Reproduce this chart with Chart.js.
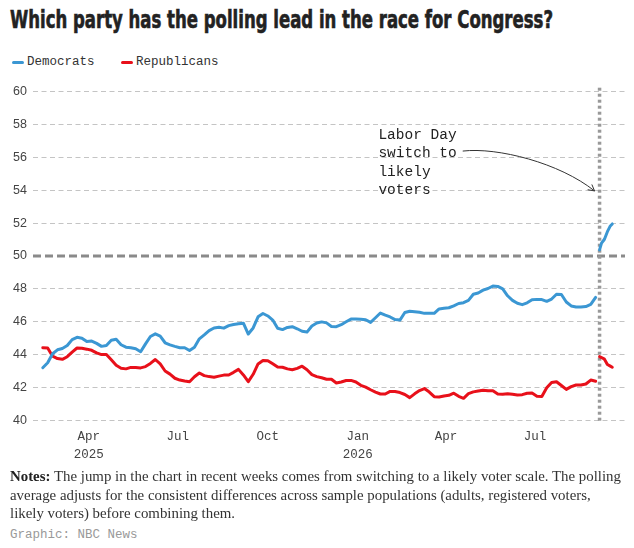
<!DOCTYPE html>
<html>
<head>
<meta charset="utf-8">
<script src="https://cdn.jsdelivr.net/npm/chart.js@4.4.1/dist/chart.umd.min.js"></script>
<style>
  body { margin: 0; width: 634px; height: 548px; background: #fff; position: relative; overflow: hidden; color: #222; }
  #title { position: absolute; left: 10px; top: 7.7px; margin: 0; white-space: nowrap; transform-origin: 0 0;
           font: bold 24px/24px "Liberation Sans Narrow", "DejaVu Sans Condensed", "Liberation Sans", sans-serif;
           -webkit-text-stroke: 0.6px #222; color: #222; }
  #legend { position: absolute; left: 12px; top: 54.5px; display: flex; color: #333;
            font: 12.5px/15px "Liberation Mono", "DejaVu Sans Mono", monospace; }
  .item { display: flex; align-items: center; margin-right: 26.5px; }
  .swatch { width: 12px; height: 3px; border-radius: 2px; margin-right: 3px; }
  #wrap { position: absolute; left: 0; top: 70px; width: 634px; height: 400px; }
  #notes { position: absolute; left: 10px; top: 467.4px; white-space: nowrap; transform-origin: 0 0; color: #333;
           font: 14.5px/18.5px "Liberation Serif", "DejaVu Serif", serif; }
  #notes b { color: #222; }
  #credit { position: absolute; left: 10px; top: 527.5px; color: #999;
            font: 12.5px/15px "Liberation Mono", "DejaVu Sans Mono", monospace; }
</style>
</head>
<body>
<h1 id="title">Which party has the polling lead in the race for Congress?</h1>
<div id="legend"></div>
<div id="wrap"><canvas id="chart"></canvas></div>
<div id="notes"><span id="firstLine"><b>Notes:</b> The jump in the chart in recent weeks comes from switching to a likely voter scale. The polling</span><br>average adjusts for the consistent differences across sample populations (adults, registered voters,<br>likely voters) before combining them.</div>
<div id="credit">Graphic: NBC News</div>

<script>
// registered-voter average, one value every 5 days from the start date
const rvStart = "2025-02-13";
const rvStepDays = 5;
const demRV = [
    43.2, 43.5, 44.05, 44.29, 44.37, 44.55, 44.91, 45.05, 45.0, 44.8,
    44.82, 44.68, 44.5, 44.55, 44.87, 44.93, 44.6, 44.45, 44.41, 44.35,
    44.17, 44.65, 45.1, 45.26, 45.12, 44.72, 44.59, 44.5, 44.42, 44.42,
    44.25, 44.45, 44.96, 45.2, 45.46, 45.62, 45.66, 45.61, 45.76, 45.83,
    45.87, 45.91, 45.25, 45.62, 46.3, 46.5, 46.35, 46.1, 45.6, 45.52,
    45.65, 45.7, 45.57, 45.42, 45.37, 45.74, 45.92, 45.99, 45.93, 45.71,
    45.7, 45.82, 46.0, 46.16, 46.17, 46.15, 46.12, 45.96, 46.24, 46.53,
    46.4, 46.29, 46.13, 46.1, 46.56, 46.64, 46.61, 46.58, 46.51, 46.51,
    46.51, 46.78, 46.82, 46.85, 46.97, 47.11, 47.16, 47.3, 47.67, 47.75,
    47.92, 48.02, 48.17, 48.15, 48.0, 47.58, 47.3, 47.12, 47.04, 47.15,
    47.34, 47.36, 47.35, 47.24, 47.38, 47.67, 47.66, 47.2, 46.96, 46.9,
    46.89, 46.92, 47.05, 47.48,
];
const repRV = [
    44.42, 44.4, 43.9, 43.76, 43.71, 43.87, 44.15, 44.4, 44.38, 44.33,
    44.26, 44.1, 44.0, 44.0, 43.68, 43.35, 43.17, 43.13, 43.22, 43.22,
    43.19, 43.27, 43.46, 43.7, 43.43, 43.0, 42.81, 42.56, 42.45, 42.39,
    42.35, 42.65, 42.88, 42.72, 42.66, 42.62, 42.69, 42.75, 42.76, 42.92,
    43.1, 42.76, 42.35, 42.8, 43.43, 43.64, 43.63, 43.44, 43.24, 43.23,
    43.13, 43.08, 43.16, 43.29, 43.08, 42.78, 42.66, 42.59, 42.5, 42.5,
    42.27, 42.33, 42.42, 42.43, 42.33, 42.13, 42.02, 41.86, 41.72, 41.6,
    41.6, 41.76, 41.75, 41.69, 41.57, 41.38, 41.61, 41.81, 41.93, 41.72,
    41.44, 41.42, 41.48, 41.52, 41.65, 41.46, 41.34, 41.62, 41.73, 41.78,
    41.83, 41.8, 41.8, 41.6, 41.58, 41.62, 41.58, 41.54, 41.56, 41.65,
    41.66, 41.47, 41.45, 41.98, 42.3, 42.35, 42.12, 41.88, 42.05, 42.15,
    42.15, 42.21, 42.45, 42.38,
];

// likely-voter average after the switch
const lvDates = ["2026-09-05", "2026-09-07", "2026-09-10", "2026-09-13", "2026-09-16", "2026-09-18"];
const demLV = [50.37, 50.78, 51.02, 51.48, 51.83, 51.95];
const repLV = [43.88, 43.82, 43.72, 43.4, 43.3, 43.23];

const switchDate = "2026-09-05";
const majorityLine = 50;
const noteLines = ["Labor Day", "switch to", "likely", "voters"];

const tickDates = ["2025-04-01", "2025-07-01", "2025-10-01", "2026-01-01", "2026-04-01", "2026-07-01"];
const tickLabels = [["Apr", "2025"], "Jul", "Oct", ["Jan", "2026"], "Apr", "Jul"];

const DEM = "#3b97d3";
const REP = "#e8101a";
const MONO = '"Liberation Mono", "DejaVu Sans Mono", monospace';
const SANS = '"Liberation Sans", Arial, sans-serif';
const DAY = 86400000;

function ts(s) {
    return Date.parse(s + "T00:00:00Z");
}

function rvPoints(values) {
    let t0 = ts(rvStart);
    return values.map((v, i) => ({ x: t0 + i * rvStepDays * DAY, y: v }));
}

function lvPoints(values) {
    return values.map((v, i) => ({ x: ts(lvDates[i]), y: v }));
}

let lineStyle = { pointRadius: 0, borderWidth: 3, tension: 0, borderJoinStyle: "round", borderCapStyle: "round", fill: false };

let data = {
    datasets: [
        { label: "Democrats", data: rvPoints(demRV), borderColor: DEM, backgroundColor: DEM, ...lineStyle },
        { label: "Democrats", data: lvPoints(demLV), borderColor: DEM, backgroundColor: DEM, ...lineStyle },
        { label: "Republicans", data: rvPoints(repRV), borderColor: REP, backgroundColor: REP, ...lineStyle },
        { label: "Republicans", data: lvPoints(repLV), borderColor: REP, backgroundColor: REP, ...lineStyle },
    ],
};

//! reference lines + Labor Day note
let switchNote = {
    id: "switchNote",
    beforeDatasetsDraw(chart) {
        let { ctx, chartArea: a, scales } = chart;
        let y50 = scales.y.getPixelForValue(majorityLine);
        let xs = scales.x.getPixelForValue(ts(switchDate));
        ctx.save();
        ctx.strokeStyle = "#8a8a8a";
        ctx.lineWidth = 3;
        ctx.setLineDash([8, 4]);
        ctx.beginPath();
        ctx.moveTo(a.left, y50);
        ctx.lineTo(a.right, y50);
        ctx.stroke();

        ctx.strokeStyle = "#999";
        ctx.lineWidth = 3.5;
        ctx.setLineDash([3, 3]);
        ctx.beginPath();
        ctx.moveTo(xs, a.top - 4);
        ctx.lineTo(xs, a.bottom + 2);
        ctx.stroke();
        ctx.restore();
    },
    afterDatasetsDraw(chart) {
        let { ctx, scales } = chart;
        let tx = scales.x.getPixelForValue(ts("2026-01-22"));
        let ty = scales.y.getPixelForValue(57.36);
        ctx.save();
        ctx.font = "14.5px " + MONO;
        ctx.fillStyle = "#222";
        ctx.textBaseline = "middle";
        noteLines.forEach((t, i) => ctx.fillText(t, tx, ty + i * 18.5));

        // curved arrow to the switch line
        let sx = tx + ctx.measureText(noteLines[1]).width + 6;
        let sy = ty + 18.5 - 2.5;
        let ex = scales.x.getPixelForValue(ts(switchDate)) - 5;
        let ey = scales.y.getPixelForValue(53.96);
        let c1x = sx + 35, c1y = sy - 4;
        let c2x = ex - 35, c2y = ey - 28;
        ctx.strokeStyle = "#333";
        ctx.lineWidth = 1;
        ctx.beginPath();
        ctx.moveTo(sx, sy);
        ctx.bezierCurveTo(c1x, c1y, c2x, c2y, ex, ey);
        ctx.stroke();
        let ang = Math.atan2(ey - c2y, ex - c2x);
        ctx.beginPath();
        ctx.moveTo(ex - 7 * Math.cos(ang - 0.5), ey - 7 * Math.sin(ang - 0.5));
        ctx.lineTo(ex, ey);
        ctx.lineTo(ex - 7 * Math.cos(ang + 0.5), ey - 7 * Math.sin(ang + 0.5));
        ctx.stroke();
        ctx.restore();
    },
};

let chartElem = document.querySelector("#chart");
let pollChart = new Chart(chartElem, {
    type: "line",
    data: data,
    plugins: [switchNote],
    options: {
        responsive: true,
        maintainAspectRatio: false,
        animation: false,
        layout: { padding: { top: 21.7, right: 9, bottom: 0, left: 0 } },
        plugins: {
            legend: { display: false },
            tooltip: { enabled: false },
        },
        scales: {
            x: {
                type: "linear",
                min: ts("2025-02-03"),
                max: ts("2026-10-01"),
                afterBuildTicks: (scale) => {
                    scale.ticks = tickDates.map((d) => ({ value: ts(d) }));
                },
                afterFit: (scale) => {
                    scale.height = 49.7;
                },
                grid: { display: false, drawTicks: false },
                border: { display: false },
                ticks: {
                    autoSkip: false,
                    maxRotation: 0,
                    padding: 7,
                    color: "#444",
                    font: { family: MONO, size: 12.5, lineHeight: "18px" },
                    callback: (val, i) => tickLabels[i],
                },
            },
            y: {
                min: 40,
                max: 60,
                afterFit: (scale) => {
                    scale.width = 33;
                },
                ticks: {
                    stepSize: 2,
                    padding: 6,
                    color: "#444",
                    font: { family: SANS, size: 12.5 },
                },
                grid: {
                    drawTicks: false,
                    lineWidth: 1,
                    color: (c) => (c.tick && c.tick.value === majorityLine ? "rgba(0,0,0,0)" : "#c4c4c4"),
                },
                border: { display: false, dash: [5, 3.5] },
            },
        },
    },
});

// legend from the dataset labels
let legendElem = document.querySelector("#legend");
let seen = {};
data.datasets.forEach((ds) => {
    if (seen[ds.label]) return;
    seen[ds.label] = true;
    let item = document.createElement("div");
    item.className = "item";
    item.innerHTML = '<span class="swatch" style="background:' + ds.borderColor + '"></span>' + ds.label;
    legendElem.appendChild(item);
});

// fit title and notes to the reference widths
let title = document.querySelector("#title");
title.style.transform = "scaleX(" + (543 / title.getBoundingClientRect().width) + ")";
let notes = document.querySelector("#notes");
let first = document.querySelector("#firstLine");
notes.style.transform = "scaleX(" + (611 / first.getBoundingClientRect().width) + ")";
</script>
</body>
</html>
